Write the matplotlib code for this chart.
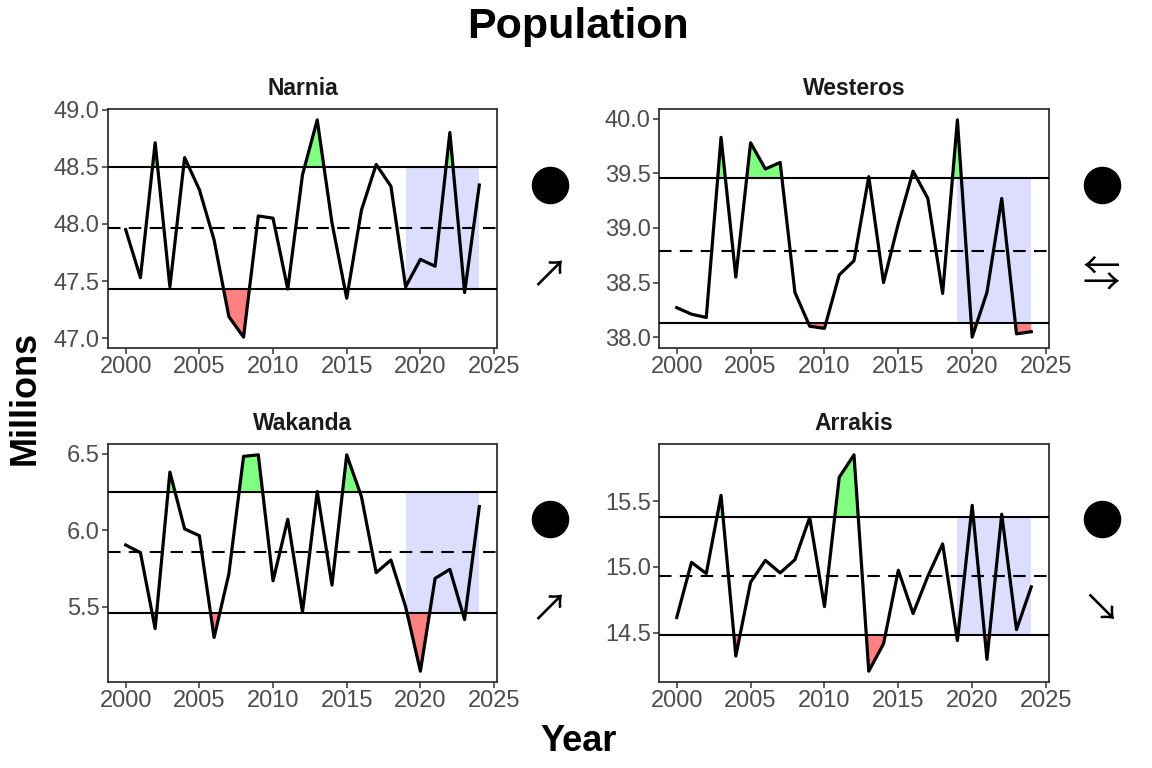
import numpy as np
import matplotlib
matplotlib.use('Agg')
import matplotlib.pyplot as plt
from matplotlib.ticker import MultipleLocator, FormatStrFormatter

plt.rcParams['font.family'] = ['Liberation Sans', 'DejaVu Sans']

years = list(range(2000, 2025))

narnia = [47.95, 47.53, 48.71, 47.45, 48.58, 48.30, 47.86, 47.19, 47.01, 48.07,
          48.05, 47.43, 48.43, 48.91, 48.01, 47.35, 48.12, 48.52, 48.33, 47.45,
          47.69, 47.63, 48.80, 47.40, 48.34]
westeros = [38.27, 38.21, 38.18, 39.83, 38.55, 39.78, 39.54, 39.60, 38.41, 38.10,
            38.08, 38.57, 38.70, 39.47, 38.50, 39.04, 39.52, 39.27, 38.40, 39.99,
            38.00, 38.41, 39.27, 38.03, 38.05]
wakanda = [5.904, 5.854, 5.358, 6.380, 6.009, 5.965, 5.300, 5.714, 6.483, 6.493,
           5.670, 6.072, 5.467, 6.253, 5.642, 6.493, 6.220, 5.723, 5.806, 5.500,
           5.080, 5.686, 5.745, 5.417, 6.155]
arrakis = [14.615, 15.034, 14.949, 15.543, 14.322, 14.883, 15.049, 14.954, 15.054, 15.375,
           14.698, 15.680, 15.851, 14.207, 14.415, 14.974, 14.645, 14.929, 15.174, 14.440,
           15.467, 14.297, 15.400, 14.523, 14.848]

regions = ['Narnia', 'Westeros', 'Wakanda', 'Arrakis']
series = [narnia, westeros, wakanda, arrakis]
trend_symbols = ['\u2197', '\u21c6', '\u2197', '\u2198']
recent_start = 2019

# axes boxes in pixels (left, top, right, bottom) on the 1152x768 canvas
boxes = [(108, 109, 497, 348), (659, 109, 1049, 348),
         (108, 444, 497, 682), (659, 444, 1049, 682)]

W, H = 1152, 768
fig = plt.figure(figsize=(W / 100, H / 100), dpi=100)

for name, vals, sym, (l, t, r, b) in zip(regions, series, trend_symbols, boxes):
    ax = fig.add_axes([l / W, 1 - b / H, (r - l) / W, (b - t) / H])
    x = np.array(years)
    y = np.array(vals)
    m = y.mean()
    sd = y.std(ddof=1)
    up, lo = m + sd, m - sd

    recent = x >= recent_start
    ax.fill_between(x[recent], lo, up, color='#DDDDFF', lw=0, zorder=1)
    ax.fill_between(x, up, y, where=y > up, interpolate=True, color='#80FF80', lw=0, zorder=2)
    ax.fill_between(x, lo, y, where=y < lo, interpolate=True, color='#FF8080', lw=0, zorder=2)

    ax.axhline(up, color='black', lw=1.5, zorder=3)
    ax.axhline(lo, color='black', lw=1.5, zorder=3)
    ax.axhline(m, color='black', lw=1.5, ls=(0, (6, 4)), zorder=3)
    ax.plot(x, y, color='black', lw=2.3, zorder=4)

    ax.margins(x=0.05, y=0.05)
    ax.xaxis.set_major_locator(MultipleLocator(5))
    ax.yaxis.set_major_locator(MultipleLocator(0.5))
    ax.yaxis.set_major_formatter(FormatStrFormatter('%.1f'))
    ax.set_xlim(1998.8, 2025.2)
    for s in ax.spines.values():
        s.set_color('#333333')
        s.set_linewidth(1.3)
    ax.tick_params(colors='#333333', labelcolor='#4D4D4D', labelsize=17, length=4, width=1.1, pad=2)
    ax.set_title(name, fontsize=16.5, fontweight='bold', color='#1A1A1A', pad=10)

    ax.plot([1.135], [0.683], transform=ax.transAxes, marker='o', ms=26, color='black', clip_on=False)
    ax.text(1.135, 0.30, sym, transform=ax.transAxes, ha='center', va='center', fontsize=27,
            family=['Noto Sans CJK JP', 'DejaVu Sans'], clip_on=False)

fig.text(0.502, 0.965, 'Population', ha='center', va='center', fontsize=31, fontweight='bold')
fig.text(0.022, 0.482, 'Millions', ha='center', va='center', rotation=90, fontsize=26, fontweight='bold')
fig.text(0.502, 0.035, 'Year', ha='center', va='center', fontsize=26, fontweight='bold')

fig.savefig('out.png', dpi=100)
